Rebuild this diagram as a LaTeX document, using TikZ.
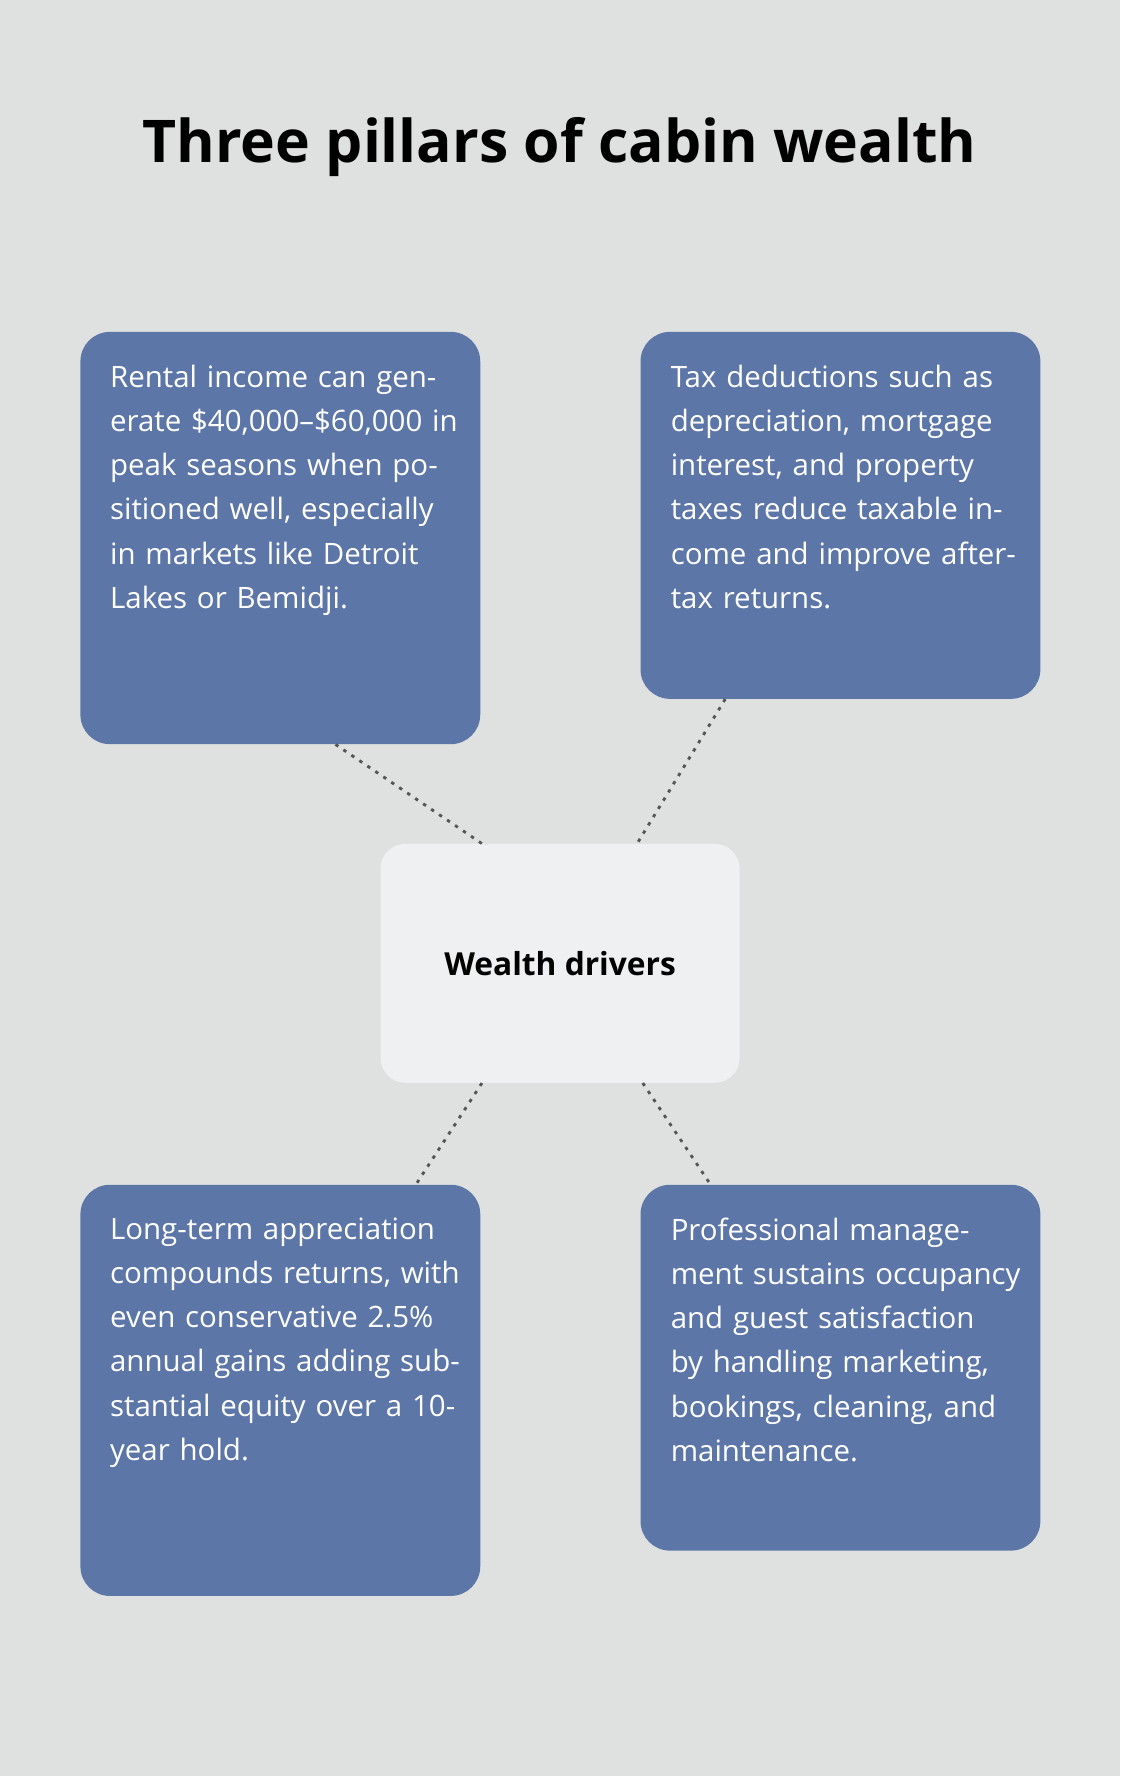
\documentclass[tikz,border=0pt]{standalone}
\usepackage{fontspec}
\setmainfont{Open Sans}
\usetikzlibrary{positioning}
\definecolor{bgcol}{HTML}{DFE1E0}
\definecolor{pillar}{HTML}{5D76A8}
\definecolor{hubcol}{HTML}{EFF0F2}
\definecolor{dotcol}{HTML}{555555}
\begin{document}
\begin{tikzpicture}[x=1pt, y=-1pt,
    box/.style = {fill=pillar, rounded corners=26pt, inner sep=0pt, minimum width=353pt},
    hub/.style = {fill=hubcol, rounded corners=22pt, inner sep=0pt, minimum width=317pt, minimum height=211pt},
    txt/.style = {anchor=north west, text=white, align=left, text width=310pt, inner sep=0pt,
                  font=\fontsize{26}{39}\selectfont},
    link/.style = {draw=dotcol, line width=2.5pt, dash pattern=on 3pt off 5.5pt}]
    % Background
    \fill[bgcol] (0,0) rectangle (989,1568);
    \useasboundingbox (0,0) rectangle (989,1568);

    \node (title) at (494,130) {\fontsize{52}{60}\selectfont\bfseries Three pillars of cabin wealth};

    % Boxes
    \node[box, minimum height=364pt] (rental) at (247.5,475) {};
    \node[box, minimum height=324pt] (tax) at (742,455) {};
    \node[box, minimum height=363pt] (appr) at (247.5,1227.5) {};
    \node[box, minimum height=323pt] (mgmt) at (742,1207.5) {};
    \node[hub] (hub) at (494.5,850.5) {\fontsize{28}{34}\selectfont\bfseries Wealth drivers};

    % Texts
    \node[txt] (rentaltxt) at (97,322) {Rental income can generate \$40,000–\$60,000 in peak seasons when positioned well, especially in markets like Detroit Lakes or Bemidji.};
    \node[txt] (taxtxt) at (592,322) {Tax deductions such as depreciation, mortgage interest, and property taxes reduce taxable income and improve after-tax returns.};
    \node[txt] (apprtxt) at (97,1075) {Long-term appreciation compounds returns, with even conservative 2.5\% annual gains adding substantial equity over a 10-year hold.};
    \node[txt] (mgmttxt) at (592,1075) {Professional management sustains occupancy and guest satisfaction by handling marketing, bookings, cleaning, and maintenance.};

    % Edges
    \draw[link] ([xshift=-128pt]rental.south east) -- ([xshift=-69pt]hub.north);
    \draw[link] ([xshift=75pt]tax.south west) -- ([xshift=68pt]hub.north);
    \draw[link] ([xshift=-69pt]hub.south) -- ([xshift=-57pt]appr.north east);
    \draw[link] ([xshift=73pt]hub.south) -- ([xshift=62pt]mgmt.north west);
\end{tikzpicture}
\end{document}
